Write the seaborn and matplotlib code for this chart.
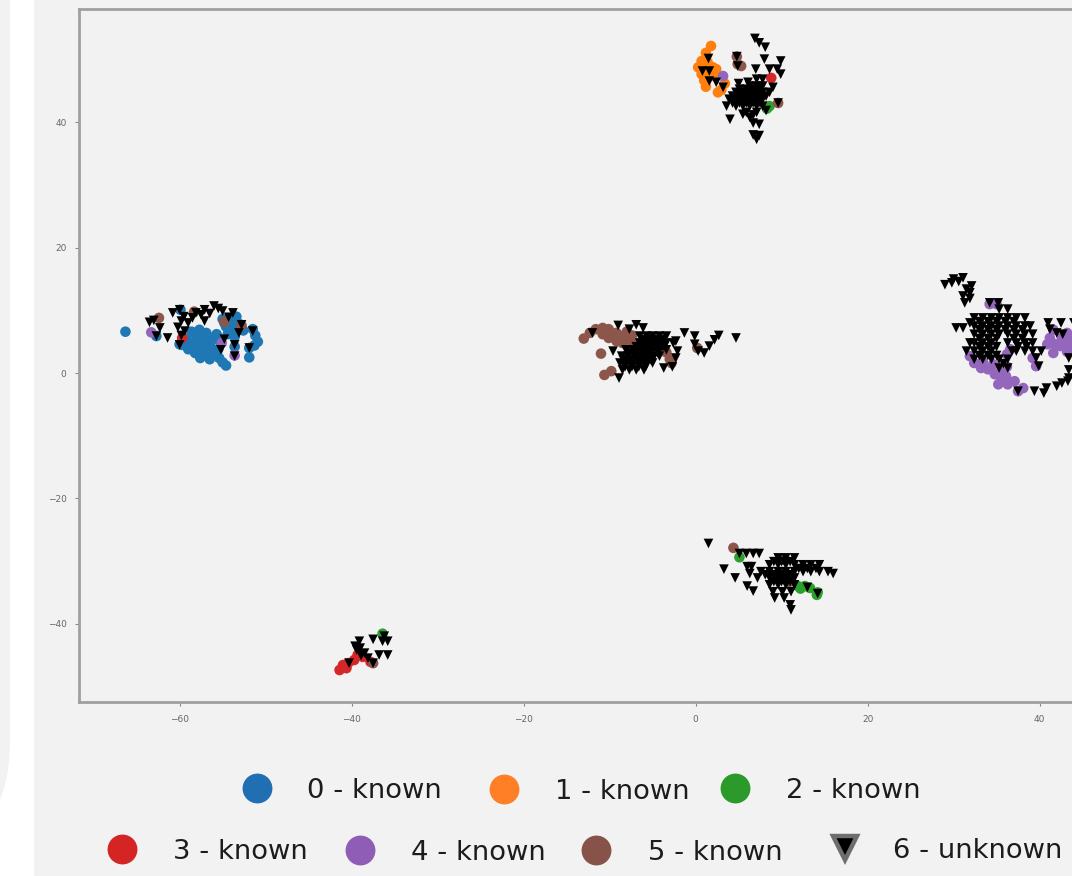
import pandas as pd
import matplotlib
matplotlib.use("Agg")
import matplotlib.pyplot as plt
import seaborn as sns
from matplotlib.lines import Line2D
from matplotlib.patches import FancyBboxPatch, Rectangle
from matplotlib.transforms import IdentityTransform

# values, (x, y) per class
known_0 = [(-66.3, 6.6), (-62.7, 5.9), (-59.8, 4.5), (-59.2, 5.5), (-59.0, 3.8), (-58.6, 6.6), (-58.4, 4.6),
           (-58.2, 3.2), (-58.0, 5.6), (-57.7, 6.9), (-57.6, 2.4), (-57.4, 4.0), (-57.2, 5.2), (-56.9, 6.4),
           (-56.8, 3.0), (-56.5, 2.2), (-56.4, 4.2), (-56.2, 5.6), (-55.9, 3.2), (-55.7, 6.2), (-55.0, 1.7),
           (-55.4, 2.4), (-54.6, 1.2), (-55.0, 8.6), (-54.6, 7.4), (-54.4, 6.2), (-54.0, 8.2), (-53.6, 7.0),
           (-53.4, 9.0), (-53.6, 5.8), (-53.0, 7.8), (-52.6, 6.8), (-51.9, 2.5), (-51.9, 4.0), (-51.5, 7.0),
           (-51.2, 6.0), (-50.9, 5.0), (-51.3, 4.4), (-53.6, 4.2), (-55.2, 4.9), (-60.0, 4.6), (-59.9, 10.1),
           (-58.8, 4.8), (-57.9, 4.4), (-57.0, 4.6), (-57.6, 6.0), (-56.6, 5.0), (-56.3, 3.6), (-57.2, 3.4),
           (-58.0, 3.8), (-55.6, 5.4), (-55.5, 3.8), (-54.8, 8.0), (-54.2, 7.0)]
known_1 = [(1.8, 52.2), (1.2, 51.1), (0.7, 49.8), (0.3, 48.8), (0.7, 47.7), (1.2, 45.7), (2.6, 44.8), (2.0, 48.8),
           (1.4, 49.6), (2.4, 48.5), (0.9, 48.7), (1.5, 47.4), (2.2, 47.4), (1.0, 46.7), (3.0, 45.2), (3.4, 46.2)]
known_2 = [(8.3, 42.2), (8.6, 42.6), (5.1, -29.4), (11.9, -34.0), (12.7, -34.0), (13.3, -34.3), (14.1, -35.4),
           (14.2, -35.0), (12.2, -34.4), (-36.4, -41.6)]
known_3 = [(-41.4, -47.4), (-41.0, -46.6), (-40.4, -46.3), (-40.6, -47.1), (-39.7, -45.8), (-39.3, -45.0),
           (-38.7, -45.3), (-37.8, -46.1), (8.8, 47.1), (-59.7, 5.6)]
known_4 = [(-63.3, 6.5), (-53.6, 2.8), (-55.1, 4.8), (3.2, 47.4), (31.9, 2.7), (32.4, 1.6), (33.2, 0.8), (34.0, 0.6),
           (34.8, -0.2), (35.2, -1.8), (35.5, 0.3), (36.1, -0.5), (36.3, -1.8), (37.1, -1.3), (37.5, -2.9),
           (38.1, -2.4), (33.4, 1.8), (34.6, 1.4), (35.6, -1.0), (36.2, 1.0), (39.2, 2.4), (39.6, 1.1), (40.9, 4.6),
           (41.2, 5.6), (41.6, 3.2), (42.4, 4.3), (43.2, 4.8), (43.7, 5.3), (41.6, 6.9), (43.2, 6.4), (43.7, 4.3),
           (42.6, 5.6), (41.8, 4.6), (43.2, 3.4), (44.4, 5.0), (44.8, 3.8), (44.6, 6.2), (34.2, 11.0), (35.0, 11.0),
           (36.2, 3.0), (36.6, 3.8)]
known_5 = [(-62.4, 8.8), (-54.8, 8.2), (-52.8, 7.6), (-58.3, 9.8), (4.9, 49.3), (5.3, 49.0), (4.8, 50.5),
           (9.6, 43.1), (-13.0, 5.5), (-11.0, 3.1), (-10.6, -0.3), (-9.8, 0.3), (-12.3, 6.4), (-11.6, 7.0),
           (-10.8, 7.2), (-10.1, 7.0), (-9.2, 6.4), (-8.5, 5.9), (-7.7, 5.3), (-7.3, 4.8), (-10.1, 5.6), (-9.2, 5.1),
           (-8.5, 4.8), (-10.8, 6.2), (-9.6, 6.0), (-8.0, 6.6), (-7.4, 6.0), (-3.0, 2.2), (-3.4, 3.3), (-2.8, 1.6),
           (0.2, 4.0), (4.4, -27.9), (10.3, -29.8), (10.3, -32.0), (10.9, -33.3), (-37.5, -46.3)]
unknown_a = [(-63.5, 8.1), (-62.3, 7.2), (-61.4, 5.6), (-60.8, 9.6), (-60.0, 10.1), (-59.8, 8.3), (-59.0, 8.0),
             (-59.4, 6.7), (-60.0, 4.5), (-58.1, 9.6), (-57.1, 10.1), (-56.0, 10.7), (-55.0, 9.9), (-53.8, 9.6),
             (-57.1, 8.3), (-54.8, 5.4), (-55.2, 3.7), (-53.6, 4.5), (-53.6, 2.7), (-53.1, 6.4),
             (-51.9, 4.0), (-51.5, 6.7), (-62.7, 5.9), (-52.8, 7.7), (-59.5, 9.0), (-58.5, 8.8),
             (-57.5, 9.3), (-56.5, 9.5), (-55.5, 10.3), (-60.2, 7.3), (-59.8, 6.0), (-54.3, 8.9), (-63.0, 8.4)]
unknown_b = [(6.9, 53.4), (7.4, 52.7), (8.1, 52.0), (4.8, 50.5), (4.9, 49.0), (8.0, 50.1), (9.9, 49.8), (9.9, 47.7),
             (7.0, 48.5), (8.6, 48.5), (9.5, 48.5), (9.0, 45.6), (9.6, 43.1), (1.5, 50.2), (0.8, 48.2), (1.6, 48.2),
             (1.6, 46.6), (2.4, 46.4), (3.2, 45.6), (4.0, 40.5), (3.6, 42.6), (5.5, 41.3), (6.7, 39.9), (7.4, 39.7),
             (6.7, 38.0), (7.4, 37.9), (7.1, 37.3), (6.1, 46.4), (7.1, 46.9), (7.8, 46.9), (6.3, 45.8), (7.1, 45.8),
             (7.8, 45.8), (4.7, 44.8), (5.5, 44.8), (6.3, 44.8), (7.1, 44.8), (7.8, 44.8), (8.6, 44.8), (3.9, 43.7),
             (4.7, 43.7), (5.5, 43.7), (6.3, 43.7), (7.1, 43.7), (7.8, 43.7), (4.7, 42.6), (5.5, 42.6), (6.3, 42.6),
             (7.1, 42.6), (7.8, 42.6), (5.9, 41.6), (6.3, 40.8), (7.1, 41.6), (8.2, 41.9), (5.0, 46.2),
             (5.1, 45.3), (5.9, 45.3), (6.7, 45.3), (7.5, 45.3), (4.3, 44.2), (5.1, 44.2), (5.9, 44.2), (6.7, 44.2),
             (7.5, 44.2), (8.2, 44.2), (4.3, 43.1), (5.1, 43.1), (5.9, 43.1), (6.7, 43.1), (7.5, 43.1), (6.7, 41.2)]
unknown_c = [(-12.0, 6.4), (-9.0, 7.6), (-7.7, 7.0), (-6.9, 7.7), (-6.1, 7.2), (-6.5, 5.9), (-5.7, 5.9), (-5.0, 5.9),
             (-4.2, 5.9), (-3.4, 5.9), (-6.5, 4.8), (-5.7, 4.8), (-5.0, 4.8), (-4.2, 4.8), (-3.4, 4.8), (-2.6, 4.8),
             (-8.1, 3.7), (-7.3, 3.7), (-6.5, 3.7), (-5.7, 3.7), (-5.0, 3.7), (-4.2, 3.7), (-3.4, 3.7), (-8.6, 2.7),
             (-7.9, 2.7), (-7.1, 2.7), (-6.3, 2.7), (-5.6, 2.7), (-4.8, 2.7), (-4.2, 2.7), (-8.8, 1.6), (-8.1, 1.6),
             (-7.3, 1.6), (-6.5, 1.6), (-5.7, 1.6), (-5.0, 1.6), (-8.5, 0.5), (-7.7, 0.5), (-6.9, 0.5), (-6.0, 0.5),
             (-1.3, 6.4), (-2.3, 5.1), (-2.1, 3.5), (-2.3, 2.4), (-3.7, 0.8), (-2.7, 1.0), (-0.1, 5.9), (-0.1, 4.6),
             (0.3, 3.5), (1.0, 3.2), (1.6, 4.3), (2.2, 5.3), (2.7, 6.0), (4.7, 5.6), (-8.9, -0.8), (-9.6, 3.5),
             (-6.1, 5.3), (-5.3, 5.3), (-4.6, 5.3), (-3.8, 5.3), (-6.9, 4.2), (-6.1, 4.2), (-5.3, 4.2), (-4.6, 4.2),
             (-3.8, 4.2), (-7.6, 3.2), (-6.8, 3.2), (-6.0, 3.2), (-5.2, 3.2), (-4.4, 3.2), (-8.4, 2.1), (-7.6, 2.1),
             (-6.8, 2.1), (-6.0, 2.1), (-5.2, 2.1), (-8.2, 1.0), (-7.4, 1.0), (-6.6, 1.0), (-5.8, 1.0)]
unknown_d = [(29.0, 14.1), (30.0, 15.0), (31.1, 15.2), (32.1, 13.9), (31.9, 12.8), (31.1, 12.3), (31.3, 11.2),
             (31.9, 11.9), (34.2, 11.2), (35.2, 11.2), (35.3, 10.2), (36.3, 10.2), (30.3, 7.2), (31.1, 7.2),
             (31.9, 8.0), (32.4, 8.8), (33.4, 8.8), (34.4, 8.8), (35.3, 8.8), (36.3, 8.8), (37.3, 8.8), (38.3, 8.8),
             (32.4, 7.5), (33.4, 7.5), (34.4, 7.5), (35.3, 7.5), (36.3, 7.5), (37.3, 7.5), (38.3, 7.5), (38.9, 7.5),
             (32.4, 6.2), (33.4, 6.2), (34.4, 6.2), (35.3, 6.2), (36.3, 6.2), (37.3, 6.2), (38.3, 6.2), (39.2, 6.2),
             (31.9, 4.8), (32.4, 4.8), (33.4, 4.8), (34.4, 4.8), (36.3, 4.8), (37.3, 4.8), (38.3, 4.8), (39.2, 4.8),
             (31.5, 3.5), (32.4, 3.5), (33.4, 3.5), (34.4, 3.5), (36.8, 3.5), (37.3, 3.5), (38.3, 3.5), (39.2, 3.5),
             (40.2, 3.5), (32.4, 2.2), (33.4, 2.2), (34.4, 2.2), (35.3, 2.2), (36.3, 2.2), (35.3, 0.8), (36.3, 0.8),
             (39.6, 2.4), (39.9, 1.1), (41.0, 8.0), (41.2, 7.0), (42.5, 8.0), (42.7, 6.2), (42.0, 6.4), (43.4, 2.4),
             (43.4, 0.5), (43.4, -0.8), (39.4, -2.9), (40.5, -3.2), (40.8, -2.4), (42.0, -2.1), (42.6, -1.6),
             (43.3, -1.3), (37.5, -2.9), (44.0, -0.9), (44.0, 8.0),
             (29.8, 14.4), (30.6, 14.6), (31.5, 13.4), (33.0, 8.2), (34.0, 8.2), (35.0, 8.2), (36.0, 8.2), (37.0, 8.2),
             (33.0, 6.9), (34.0, 6.9), (35.0, 6.9), (36.0, 6.9), (37.0, 6.9), (38.0, 6.9), (33.0, 5.5), (34.0, 5.5),
             (35.0, 5.5), (37.0, 5.5), (38.0, 5.5), (33.0, 4.2), (34.0, 4.2), (35.0, 4.2), (37.5, 4.2), (38.5, 4.2),
             (33.0, 2.8), (34.0, 2.8), (35.0, 2.8), (35.8, 1.5)]
unknown_e = [(1.5, -27.2), (5.1, -28.8), (5.9, -28.8), (6.7, -28.8), (7.4, -28.8), (3.3, -31.3), (4.6, -32.7),
             (6.0, -30.9), (6.5, -30.9), (6.3, -32.0), (6.0, -34.0), (6.7, -34.8), (16.0, -32.0), (11.1, -37.8),
             (9.6, -29.5), (10.5, -29.5), (11.5, -29.5), (8.6, -30.6), (9.6, -30.6), (10.5, -30.6), (11.5, -30.6),
             (12.5, -30.6), (13.4, -30.6), (14.4, -30.6), (7.6, -31.7), (8.6, -31.7), (9.6, -31.7), (10.5, -31.7),
             (11.5, -31.7), (12.5, -31.7), (13.4, -31.7), (14.4, -31.7), (15.4, -31.7), (7.2, -32.7), (8.6, -32.7),
             (9.6, -32.7), (10.5, -32.7), (11.5, -32.7), (8.6, -33.8), (9.6, -33.8), (10.5, -33.8), (11.5, -33.8),
             (9.0, -34.9), (10.1, -34.9), (11.1, -34.9), (9.2, -35.9), (10.3, -35.9), (11.0, -37.0), (13.0, -34.2),
             (14.2, -35.2), (9.1, -30.1), (10.0, -30.1), (11.0, -30.1), (8.1, -32.2), (9.1, -32.2), (10.0, -32.2),
             (11.0, -32.2), (12.0, -31.2), (13.0, -31.2), (14.0, -31.2), (9.1, -33.3), (10.0, -33.3), (11.0, -33.3)]
unknown_f = [(-39.1, -42.8), (-39.4, -44.2), (-39.0, -43.9), (-38.5, -44.7), (-38.1, -45.5), (-37.5, -46.3),
             (-40.3, -46.3), (-37.5, -42.5), (-35.8, -42.8), (-36.4, -42.8), (-36.8, -45.0), (-35.8, -45.0),
             (-36.2, -42.0), (-38.9, -45.1), (-39.6, -43.6)]

class_names = ["0 - known", "1 - known", "2 - known", "3 - known", "4 - known", "5 - known", "6 - unknown"]
class_colors = ["#1f77b4", "#ff7f0e", "#2ca02c", "#d62728", "#9467bd", "#8c564b", "#000000"]
legend_colors = ["#1f6fb2", "#ff7f27", "#2b9a2b", "#d42424", "#8f5cb6", "#87524a", "#000000"]
x_ticks = [-60, -40, -20, 0, 20, 40]
y_ticks = [-40, -20, 0, 20, 40]

W, H = 1072, 876
BG = "#f2f2f2"

# legend entries sit on two rows, pixel anchors of the handle centres
legend_pos = [(257, 791), (504, 792), (735, 791), (122, 852), (360, 853), (596, 853), (845, 851)]
legend_text_gap = [50, 51, 51, 51, 51, 52, 48]

unknown = unknown_a + unknown_b + unknown_c + unknown_d + unknown_e + unknown_f
frames = []
for name, pts in zip(class_names, [known_0, known_1, known_2, known_3, known_4, known_5, unknown]):
    part = pd.DataFrame(pts, columns=["x", "y"])
    part["label"] = name
    frames.append(part)
df = pd.concat(frames, ignore_index=True)

sns.set_style("white")
fig = plt.figure(figsize=(W / 100, H / 100), dpi=100, facecolor=BG)

# white strip and rounded panel on the left edge
fig.add_artist(Rectangle((0, 0), 34, H, transform=IdentityTransform(), facecolor="white", edgecolor="none"))
fig.add_artist(FancyBboxPatch((-300, 15), 310, 1000, boxstyle="round,pad=0,rounding_size=120",
                              transform=IdentityTransform(), facecolor=BG, edgecolor="none"))

# the axes run past the right edge of the picture
ax = fig.add_axes([79 / W, (H - 702) / H, (1092 - 79) / W, (702 - 9) / H])
ax.set_facecolor(BG)
markers = {n: ("v" if "unknown" in n else "o") for n in class_names}
sizes = {n: (48 if "unknown" in n else 58) for n in class_names}
sns.scatterplot(data=df, x="x", y="y", hue="label", style="label", palette=dict(zip(class_names, class_colors)),
                markers=markers, size="label", sizes=sizes, linewidth=0, legend=False, ax=ax)
ax.set_xlim(-71.7, 46.1)
ax.set_ylim(-52.5, 58.1)
ax.set_xticks(x_ticks)
ax.set_yticks(y_ticks)
ax.set_xlabel("")
ax.set_ylabel("")
ax.tick_params(length=3, width=0.8, color="#888888", labelcolor="#666666", labelsize=6.5, pad=6,
               bottom=True, left=True)
for spine in ax.spines.values():
    spine.set_color("#a0a0a0")
    spine.set_linewidth(2.0)

# one legend per entry, the gaps in the reference are not regular
for i, name in enumerate(class_names):
    unk = "unknown" in name
    handle = Line2D([], [], linestyle="", marker="v" if unk else "o", markersize=17 if unk else 21.5,
                    markerfacecolor=legend_colors[i], markeredgecolor="#6e6e6e" if unk else legend_colors[i],
                    markeredgewidth=3.2 if unk else 0, label=name)
    px, py = legend_pos[i]
    fontsize = 19.7
    # handle box is one font size wide here, centre it on px
    handle_w = 1.0 * fontsize * 100 / 72
    fig.legend(handles=[handle], loc="center left", bbox_to_anchor=((px - handle_w / 2) / W, 1 - py / H),
               frameon=False, fontsize=fontsize, borderpad=0, borderaxespad=0, handlelength=1.0,
               handletextpad=(legend_text_gap[i] - handle_w / 2) / (fontsize * 100 / 72), labelcolor="#1c1c1c")

fig.savefig("out.png", dpi=100, facecolor=BG)
